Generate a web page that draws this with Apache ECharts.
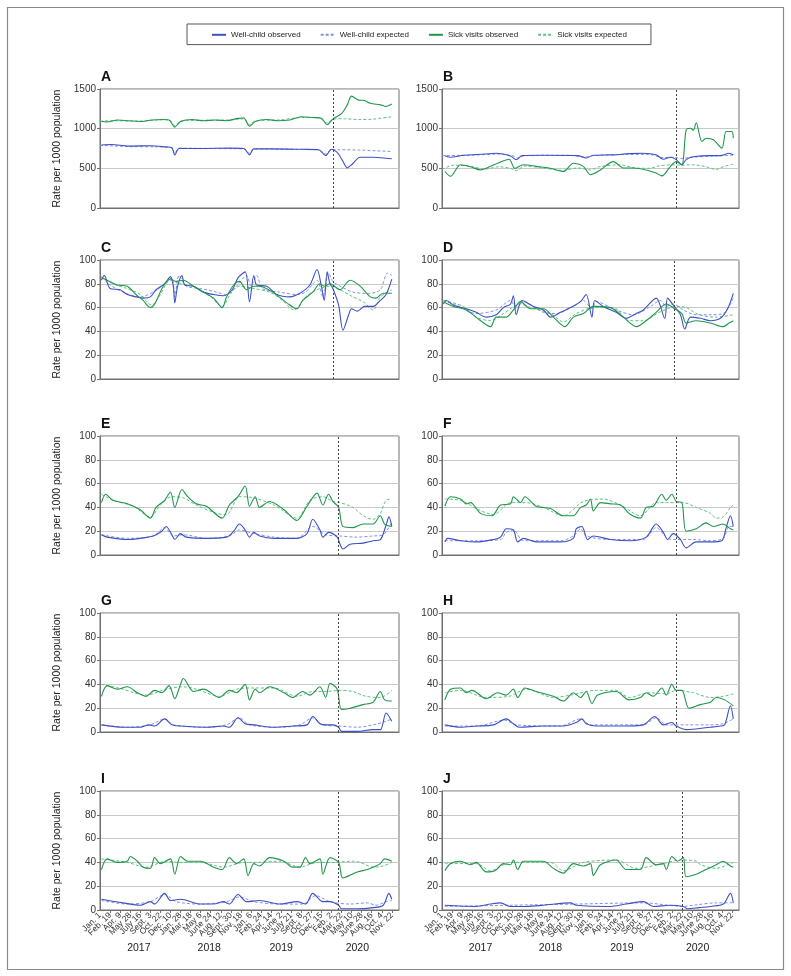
<!DOCTYPE html>
<html><head><meta charset="utf-8">
<script src="https://cdn.jsdelivr.net/npm/echarts@6/dist/echarts.min.js"></script>
<style>html,body{margin:0;padding:0;background:#fff}#c{width:791px;height:976px}</style>
</head><body><div id="c"></div>
<script>
// ---------- axis text ----------
const tickLabels = ["Jan. 1","Feb. 19","Apr. 9","May 28","July 16","Sept. 3","Oct. 22","Dec. 10","Jan. 28","Mar. 18","May 6","June 24","Aug. 12","Sept. 30","Nov. 18","Jan. 6","Feb. 24","Apr. 14","June 2","July 21","Sept. 8","Oct. 27","Dec. 15","Feb. 2","Mar. 22","May 10","June 28","Aug. 16","Oct. 4","Nov. 22"];
const years = ["2017","2018","2019","2020"];
const yearWeeks = [27, 76, 126, 179];
const seriesNames = ["Well-child observed","Well-child expected","Sick visits observed","Sick visits expected"];
const panelLetters = ["A","B","C","D","E","F","G","H","I","J"];
const pandemicWeek = [162,164,162,163,166,164,166,164,166,168];

// ---------- data: [week index from Jan 1 2017, rate] ----------
const A_wellObs = [[1,795],[8,800],[20,780],[35,785],[46,770],[50,760],[52,670],[55,750],[70,750],[90,755],[100,750],[104,670],[107,745],[120,745],[140,740],[152,735],[157,660],[161,740],[165,700],[169,590],[172,505],[175,545],[181,640],[190,640],[203,620]];
const A_wellExp = [[0,790],[20,775],[40,770],[50,760],[52,690],[55,755],[80,750],[100,745],[104,690],[107,745],[130,740],[152,735],[157,680],[161,735],[180,730],[203,712]];
const A_sickObs = [[1,1090],[5,1085],[12,1110],[20,1100],[28,1090],[36,1110],[44,1115],[48,1110],[52,1020],[56,1090],[64,1115],[72,1100],[80,1110],[88,1100],[96,1130],[100,1135],[104,1030],[108,1090],[116,1115],[124,1100],[132,1110],[140,1150],[148,1140],[154,1130],[158,1050],[162,1120],[168,1190],[172,1300],[175,1410],[180,1360],[184,1355],[188,1320],[195,1300],[199,1280],[203,1310]];
const A_sickExp = [[0,1095],[10,1100],[25,1095],[40,1110],[48,1115],[52,1040],[56,1095],[70,1105],[90,1110],[100,1125],[104,1050],[108,1100],[125,1110],[140,1140],[152,1140],[158,1070],[162,1120],[170,1125],[180,1115],[190,1120],[203,1150]];

const B_wellObs = [[2,660],[6,640],[15,665],[30,680],[38,690],[48,655],[52,608],[56,660],[70,665],[95,660],[101,630],[106,665],[120,670],[131,685],[141,690],[150,670],[155,615],[160,640],[164,610],[168,545],[171,610],[176,645],[188,660],[195,660],[201,690],[204,670]];
const B_wellExp = [[0,660],[20,665],[40,680],[50,655],[53,630],[58,660],[90,665],[100,640],[106,660],[130,675],[145,675],[155,635],[162,640],[168,625],[175,640],[190,655],[204,665]];
const B_sickObs = [[2,460],[6,400],[13,545],[20,520],[27,480],[34,525],[39,565],[47,615],[51,500],[57,545],[66,525],[76,500],[85,460],[92,565],[99,525],[104,420],[111,480],[120,585],[127,505],[134,505],[143,480],[150,440],[154,405],[160,525],[164,585],[168,545],[171,985],[174,1005],[176,980],[178,1075],[182,838],[185,880],[190,860],[196,755],[199,964],[203,964],[204,880]];
const B_sickExp = [[0,485],[8,540],[20,525],[30,490],[40,520],[48,500],[52,470],[58,530],[70,505],[85,475],[95,505],[104,480],[110,520],[125,545],[135,505],[145,500],[152,530],[160,545],[168,540],[175,545],[185,520],[192,485],[197,520],[204,553]];

const C_wellObs = [[1,83],[3,87],[7,76],[14,75],[19,71],[25,69],[30,68],[35,69],[39,75],[45,80],[49,86],[51,78],[52,64],[54,78],[57,87],[59,79],[65,78],[72,73],[79,71],[86,70],[92,75],[96,85],[101,90],[104,65],[107,87],[109,79],[116,78],[123,71],[132,69],[139,72],[146,79],[151,92],[154,78],[156,66],[158,90],[160,80],[162,76],[166,62],[169,41],[173,54],[175,59],[179,57],[184,61],[190,61],[195,66],[199,71],[203,84]];
const C_wellExp = [[1,86],[7,79],[18,72],[28,69],[37,73],[44,79],[50,85],[52,69],[55,87],[60,78],[70,76],[81,73],[88,71],[95,78],[102,87],[105,78],[109,87],[113,76],[125,73],[137,71],[143,73],[151,83],[155,69],[159,89],[162,82],[167,78],[176,73],[187,72],[195,75],[200,89],[203,87]];
const C_sickObs = [[1,85],[5,83],[12,79],[19,78],[25,71],[30,66],[35,60],[38,63],[44,78],[49,84],[53,82],[58,83],[65,78],[72,73],[79,68],[85,60],[88,69],[93,79],[97,82],[102,75],[107,78],[111,78],[120,73],[130,64],[137,59],[141,66],[148,73],[153,80],[156,78],[160,80],[162,79],[167,75],[174,83],[181,78],[188,69],[192,68],[197,72],[203,72]];
const C_sickExp = [[1,86],[9,80],[19,76],[28,71],[36,62],[41,69],[49,83],[56,80],[65,78],[77,69],[85,61],[91,72],[97,78],[107,76],[118,73],[127,66],[135,58],[143,69],[151,75],[160,78],[167,75],[176,69],[183,65],[190,58],[195,69],[203,75]];

const D_wellObs = [[1,63],[3,66],[8,62],[17,59],[24,56],[31,52],[38,54],[43,60],[48,63],[50,70],[52,54],[56,66],[64,61],[71,58],[76,52],[83,56],[90,60],[97,65],[101,71],[105,52],[107,66],[113,61],[122,56],[129,51],[136,55],[141,58],[150,68],[156,51],[158,68],[162,62],[167,54],[170,42],[174,52],[181,51],[188,49],[195,51],[200,59],[204,72]];
const D_wellExp = [[1,66],[10,62],[24,55],[38,58],[48,66],[52,59],[57,65],[71,56],[80,55],[92,61],[99,66],[105,59],[108,65],[122,58],[134,54],[146,61],[153,66],[157,61],[162,63],[169,58],[178,54],[188,54],[197,55],[204,68]];
const D_sickObs = [[1,65],[8,61],[17,58],[27,49],[34,44],[38,52],[45,52],[50,58],[55,65],[62,59],[71,59],[78,52],[86,44],[92,52],[99,55],[106,61],[118,60],[127,52],[136,44],[143,49],[150,56],[157,63],[163,59],[168,55],[171,47],[178,49],[188,47],[197,44],[201,47],[204,49]];
const D_sickExp = [[1,66],[15,61],[24,52],[34,49],[43,55],[55,63],[62,60],[76,55],[85,48],[94,55],[106,60],[120,60],[131,49],[141,49],[152,56],[160,60],[164,61],[171,60],[180,54],[192,52],[204,54]];

const E_wellObs = [[1,17],[5,15],[19,13],[28,14],[37,16],[43,20],[46,24],[50,17],[52,13],[56,18],[60,15],[74,14],[88,15],[93,20],[97,26],[101,21],[104,15],[107,19],[111,16],[121,14],[137,14],[144,18],[148,30],[153,21],[155,15],[159,19],[165,15],[167,9],[169,5],[174,9],[183,10],[190,12],[195,13],[199,25],[201,32],[203,24]];
const E_wellExp = [[1,17],[19,14],[37,16],[45,23],[51,16],[58,17],[74,14],[90,16],[97,21],[107,18],[121,15],[137,14],[148,24],[157,17],[167,16],[178,15],[190,16],[197,17],[203,28]];
const E_sickObs = [[1,44],[4,51],[9,46],[19,43],[28,38],[35,31],[39,40],[45,46],[49,53],[52,40],[57,55],[61,49],[67,43],[74,41],[85,31],[90,42],[96,49],[101,58],[104,41],[108,49],[111,40],[118,45],[128,38],[137,29],[144,41],[151,52],[155,42],[159,51],[162,45],[166,40],[169,24],[176,23],[183,26],[190,26],[195,33],[198,26],[203,24]];
const E_sickExp = [[1,51],[9,46],[23,41],[35,32],[42,42],[50,49],[58,48],[67,42],[81,35],[88,34],[97,49],[107,48],[121,42],[137,31],[146,46],[155,49],[162,45],[167,44],[176,40],[183,33],[190,30],[195,35],[199,46],[203,47]];

const F_wellObs = [[2,11],[4,14],[13,12],[24,11],[36,13],[41,15],[45,22],[50,21],[53,11],[57,14],[66,11],[83,11],[92,14],[94,22],[98,24],[102,13],[106,16],[118,13],[132,12],[143,15],[150,26],[155,19],[158,13],[162,18],[167,13],[171,6],[178,11],[188,11],[196,12],[199,23],[202,33],[204,24]];
const F_wellExp = [[2,12],[24,12],[41,13],[45,19],[50,21],[57,12],[83,12],[92,16],[97,22],[101,16],[118,13],[141,13],[150,23],[158,14],[164,13],[176,13],[188,12],[197,14],[201,24],[204,24]];
const F_sickObs = [[2,41],[6,49],[13,47],[17,43],[20,44],[27,35],[35,33],[41,42],[48,43],[50,49],[55,44],[58,49],[66,41],[76,39],[85,33],[92,33],[97,40],[101,42],[104,47],[106,37],[111,44],[118,43],[125,42],[132,34],[139,31],[143,40],[148,41],[154,51],[157,46],[161,51],[164,45],[168,44],[171,20],[178,22],[185,27],[190,24],[197,26],[202,22],[204,21]];
const F_sickExp = [[2,47],[13,46],[24,39],[36,34],[48,44],[59,44],[71,40],[85,33],[99,45],[113,47],[125,42],[139,33],[150,44],[157,44],[169,44],[178,40],[188,35],[192,31],[197,32],[202,40],[204,42]];

const G_wellObs = [[1,6],[16,4],[28,4],[34,6],[38,5],[45,11],[50,6],[56,5],[74,4],[86,5],[90,4],[96,12],[101,7],[107,6],[121,4],[134,5],[144,6],[148,13],[153,7],[157,6],[162,6],[166,4],[168,0.5],[179,0.5],[190,2],[195,2],[199,16],[203,9]];
const G_wellExp = [[1,6],[19,4],[35,6],[45,11],[51,6],[74,4],[88,6],[97,12],[104,6],[125,4],[139,6],[148,12],[155,6],[167,5],[179,4],[190,6],[199,9],[203,11]];
const G_sickObs = [[1,30],[5,39],[12,36],[19,38],[26,33],[32,30],[38,35],[43,33],[48,39],[52,28],[56,40],[58,45],[65,34],[72,36],[83,29],[90,35],[95,33],[101,40],[104,27],[108,36],[111,33],[118,38],[128,33],[134,29],[141,34],[146,31],[153,38],[157,29],[160,41],[165,36],[168,19],[174,20],[183,23],[190,25],[195,34],[198,27],[203,26]];
const G_sickExp = [[1,40],[13,37],[32,31],[46,36],[58,38],[67,36],[83,30],[95,36],[107,37],[121,37],[137,30],[148,34],[157,34],[167,35],[176,34],[185,30],[195,29],[203,35]];

const H_wellObs = [[2,6],[13,4],[24,5],[36,6],[45,11],[50,7],[54,4],[71,5],[85,5],[94,8],[98,11],[101,7],[108,5],[127,5],[141,6],[149,13],[155,6],[161,8],[164,5],[171,2],[188,4],[195,5],[198,6],[202,22],[204,11]];
const H_wellExp = [[2,5],[24,5],[44,10],[52,6],[83,5],[97,11],[104,6],[141,6],[150,12],[157,6],[171,6],[188,6],[197,7],[204,11]];
const H_sickObs = [[2,27],[6,36],[13,37],[17,33],[21,35],[31,28],[39,33],[45,31],[50,36],[53,29],[58,37],[66,34],[78,30],[85,26],[92,33],[97,29],[101,34],[105,24],[109,31],[122,34],[131,27],[139,29],[143,33],[148,30],[154,37],[157,31],[161,40],[164,35],[168,35],[173,20],[181,23],[188,25],[192,29],[198,27],[204,22]];
const H_sickExp = [[2,33],[13,35],[31,29],[47,30],[59,36],[78,29],[90,31],[108,35],[122,35],[131,29],[145,33],[157,32],[164,35],[176,33],[188,29],[197,30],[204,32]];

const I_wellObs = [[1,9],[16,6],[28,4],[35,7],[38,5],[45,14],[49,8],[56,9],[70,5],[79,5],[86,7],[90,5],[96,13],[102,7],[111,8],[125,5],[137,7],[143,5],[148,14],[155,7],[160,7],[166,4],[168,1],[179,1],[190,2],[197,4],[201,14],[203,9]];
const I_wellExp = [[1,8],[19,5],[35,7],[45,13],[53,7],[70,5],[88,7],[97,11],[107,7],[125,5],[141,5],[150,12],[160,7],[174,5],[186,6],[192,4],[199,7],[203,8]];
const I_sickObs = [[1,34],[5,43],[12,40],[19,41],[21,45],[26,41],[30,36],[35,35],[38,44],[42,39],[49,43],[52,30],[56,45],[61,41],[70,41],[79,36],[85,34],[90,44],[95,39],[100,43],[103,29],[107,39],[111,37],[118,44],[128,41],[134,36],[139,36],[143,44],[146,39],[153,43],[155,30],[160,44],[166,40],[169,27],[179,32],[186,34],[190,36],[195,39],[198,43],[203,41]];
const I_sickExp = [[1,43],[19,40],[32,36],[46,41],[56,40],[70,40],[86,36],[100,40],[109,40],[125,41],[139,36],[151,40],[162,40],[176,41],[181,40],[190,36],[197,37],[203,40]];

const J_wellObs = [[2,4],[24,3],[34,5],[41,6],[48,3],[59,3],[71,4],[90,6],[94,4],[117,3],[129,5],[141,7],[148,3],[160,4],[169,3],[172,1],[180,2],[188,3],[197,5],[202,14],[204,6]];
const J_wellExp = [[2,3],[48,4],[94,5],[141,6],[169,3],[176,4],[192,6],[204,6]];
const J_sickObs = [[2,33],[6,39],[13,41],[20,38],[24,40],[31,32],[37,33],[43,39],[48,38],[50,42],[53,34],[57,41],[71,41],[78,35],[85,31],[92,39],[99,37],[104,39],[106,29],[111,38],[122,42],[129,34],[139,34],[143,44],[150,38],[155,39],[157,34],[161,45],[165,41],[169,44],[171,28],[178,30],[185,34],[192,38],[197,41],[202,37],[204,36]];
const J_sickExp = [[2,39],[24,39],[34,33],[48,40],[76,40],[85,33],[99,40],[122,42],[136,35],[155,39],[167,42],[178,41],[181,38],[192,35],[202,39],[204,40]];

// ---------- build ----------
const panelData = [
  [A_wellObs,A_wellExp,A_sickObs,A_sickExp],
  [B_wellObs,B_wellExp,B_sickObs,B_sickExp],
  [C_wellObs,C_wellExp,C_sickObs,C_sickExp],
  [D_wellObs,D_wellExp,D_sickObs,D_sickExp],
  [E_wellObs,E_wellExp,E_sickObs,E_sickExp],
  [F_wellObs,F_wellExp,F_sickObs,F_sickExp],
  [G_wellObs,G_wellExp,G_sickObs,G_sickExp],
  [H_wellObs,H_wellExp,H_sickObs,H_sickExp],
  [I_wellObs,I_wellExp,I_sickObs,I_sickExp],
  [J_wellObs,J_wellExp,J_sickObs,J_sickExp]
];
const colors = ['#3d50c4','#8093e2','#20964a','#5fc283'];
const dashed = [false,true,false,true];
const rowTops = [89, 260, 436, 613, 791];
const frame = '#707070';
const FONT = '"Liberation Sans", Arial, Helvetica, sans-serif';

const grids=[], xAxes=[], yAxes=[], series=[], titles=[];
panelData.forEach((sets,i)=>{
  const col=i%2, row=Math.floor(i/2);
  const left = col ? 442 : 100, width = col ? 297 : 299;
  const top = rowTops[row];
  const big = i<2, bottomRow = row===4;
  grids.push({left, top, width, height:119, show:true, borderColor:frame, borderWidth:1, backgroundColor:'transparent'});
  titles.push({text:panelLetters[i], left:left+1, top:top-19, padding:0, textStyle:{fontSize:14, fontWeight:'bold', color:'#111', fontFamily:FONT}});
  const xi = xAxes.length;
  const labelBase = {show:bottomRow, rotate:45, fontSize:8.5, color:'#333', margin:4, fontFamily:FONT, hideOverlap:false};
  xAxes.push({gridIndex:i, type:'value', min:0, max:208, interval:7,
    axisLine:{show:true, lineStyle:{color:frame}},
    axisTick:{show:bottomRow, length:3, lineStyle:{color:frame}},
    axisLabel:Object.assign({}, labelBase, {showMinLabel:false, showMaxLabel:false,
      formatter:v=>{const k=v/7; return (Number.isInteger(k)&&k>0&&k<tickLabels.length)?tickLabels[k]:'';}}),
    splitLine:{show:false}});
  if(bottomRow){
    // first tick label on its own axis so it is not dropped by overlap handling
    xAxes.push({gridIndex:i, type:'value', min:0, max:208, interval:7, position:'bottom',
      axisLine:{show:false}, axisTick:{show:false}, splitLine:{show:false},
      axisLabel:Object.assign({}, labelBase, {showMinLabel:true, showMaxLabel:false,
        formatter:v=>v===0?tickLabels[0]:''})});
    xAxes.push({gridIndex:i, type:'value', min:0, max:208, interval:1, position:'bottom', offset:27,
      axisLine:{show:false}, axisTick:{show:false}, splitLine:{show:false},
      axisLabel:{fontSize:10.5, color:'#222', margin:6, fontFamily:FONT, showMinLabel:true, showMaxLabel:true,
        formatter:v=>{const k=yearWeeks.indexOf(v); return k>=0?years[k]:'';}}});
  }
  yAxes.push({gridIndex:i, type:'value', min:0, max: big?1500:100, interval: big?500:20,
    name: col===0 ? 'Rate per 1000 population' : '', nameLocation:'middle', nameGap:37, nameRotate:90,
    nameTextStyle:{fontSize:10.5, color:'#222', fontFamily:FONT},
    axisLine:{show:true, lineStyle:{color:frame}},
    axisTick:{show:true, length:3, lineStyle:{color:frame}},
    axisLabel:{fontSize:10, color:'#333', margin:4, fontFamily:FONT, formatter:v=>String(v)},
    splitLine:{show:true, lineStyle:{color:'#c8c8c8', width:1.2}}});
  sets.forEach((d,s)=>{
    const ser = {name:seriesNames[s], type:'line', xAxisIndex:xi, yAxisIndex:i, data:d,
      symbol:'none', smooth:0.3, z: dashed[s]?2:3,
      lineStyle:{color:colors[s], width: dashed[s]?1:1.1, type: dashed[s]?[3,2]:'solid'},
      itemStyle:{color:colors[s]}};
    if(s===0){
      ser.markLine = {silent:true, symbol:'none', animation:false, label:{show:false},
        lineStyle:{color:'#444', width:1, type:[2,2]}, data:[{xAxis:pandemicWeek[i]}]};
    }
    series.push(ser);
  });
});

const chart = echarts.init(document.getElementById('c'), null, {renderer:'canvas'});
chart.setOption({
  animation:false,
  backgroundColor:'#fff',
  textStyle:{fontFamily:FONT},
  title: titles,
  legend:{data:seriesNames, left:187, top:24, padding:[6,24,5,24], itemGap:19, itemWidth:14, itemHeight:12,
    itemStyle:{opacity:0, borderWidth:0},
    borderColor:'#555', borderWidth:1, textStyle:{fontSize:8, color:'#222', fontFamily:FONT}},
  graphic:[{type:'rect', shape:{x:7.5, y:7.5, width:776, height:962}, style:{fill:'none', stroke:'#8a8a8a', lineWidth:1.2}, silent:true, z:-1}],
  grid: grids, xAxis: xAxes, yAxis: yAxes, series
});
</script></body></html>
